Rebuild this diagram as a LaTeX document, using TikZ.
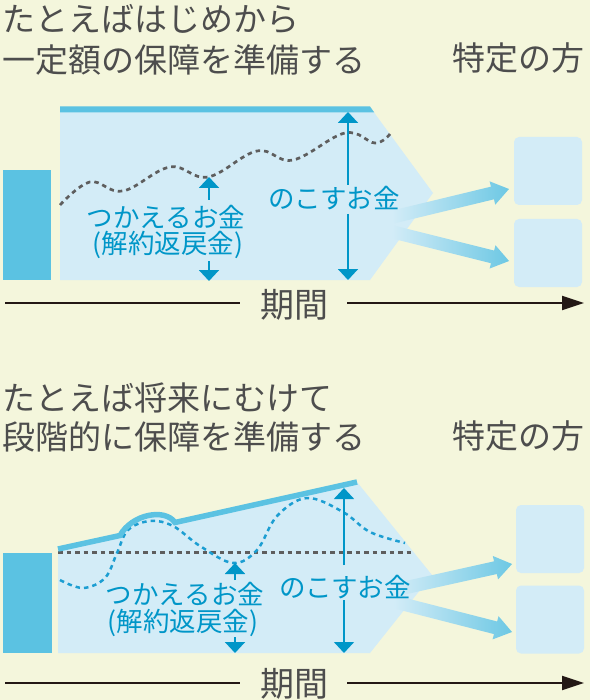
\documentclass[tikz,border=0pt]{standalone}
\usepackage{fontspec}
\newfontfamily\jp{Noto Sans CJK JP}
\usetikzlibrary{arrows.meta}
\definecolor{bg}{HTML}{F4F6DC}
\definecolor{light}{HTML}{D3ECF7}
\definecolor{barc}{HTML}{5BC2E2}
\definecolor{tblue}{HTML}{0096C8}
\definecolor{greytext}{HTML}{4D4D4D}
\definecolor{darkline}{HTML}{231815}
\definecolor{dgrey}{HTML}{5E5E5E}
\definecolor{dblue}{HTML}{1C9ED2}
\definecolor{garr}{HTML}{6DC8E4}
\newcommand\myGradArrow[3]{%
  \begin{scope}[shift={#1}, rotate=#2]
    \shade[left color=light, middle color=garr!50!bg, right color=garr]
      (0,-6.5) -- ({#3-17},-6.5) -- ({#3-17},-12) -- (#3,0) --
      ({#3-17},12) -- ({#3-17},6.5) -- (0,6.5) -- cycle;
  \end{scope}}
\begin{document}
\begin{tikzpicture}[x=1pt,y=-1pt,
  title/.style={font=\jp\fontsize{33}{36}\selectfont, text=greytext, inner sep=0pt},
  lbl/.style={font=\jp\fontsize{26.5}{30}\selectfont, text=tblue, inner sep=0pt},
  period/.style={font=\jp\fontsize{34}{36}\selectfont, text=greytext, inner sep=0pt},
  dest/.style={fill=light, rounded corners=5pt, minimum width=68pt, minimum height=68pt, inner sep=0pt},
  varr/.style={draw=tblue, line width=2pt, -{Triangle[width=20pt,length=11pt]}},
  tline/.style={draw=darkline, line width=2pt},
  gdash/.style={draw=dgrey, line width=2.7pt, dash pattern=on 4.5pt off 4pt},
  bdash/.style={draw=dblue, line width=2.5pt, dash pattern=on 4.5pt off 4pt},
  solidbar/.style={fill=barc}]
\useasboundingbox (0,0) rectangle (590,700);
\fill[bg] (0,0) rectangle (590,700);

% ================= TOP PANEL =================
\node[title, anchor=west] (t1a) at (2,19) {たとえばはじめから};
\node[title, anchor=west] (t1b) at (2,60) {一定額の保障を準備する};
\node[title] (t1c) at (518,58) {特定の方};

\fill[solidbar] (3,170) rectangle (51,280);
\fill[light] (60,107) -- (370,107) -- (433,193) -- (370,280) -- (60,280) -- cycle;
\fill[barc] (60,106.5) -- (370,106.5) -- (374.3,112.5) -- (60,112.5) -- cycle;

\draw[gdash] plot[smooth, tension=0.65] coordinates {(60,205) (90,182) (123,191) (170,167) (208,177) (257,151) (293,160) (345,133) (375,143) (390,134)};

\coordinate (tA1) at (393,217);
\coordinate (tA2) at (393,232);
\myGradArrow{(tA1)}{13.57}{119.3}
\myGradArrow{(tA2)}{-14.04}{119.6}

\node[dest] (d1) at (548,171) {};
\node[dest] (d2) at (548,253) {};

\node[lbl] (k1) at (166,217) {つかえるお金};
\node[lbl] (k1b) at (168,245) {(解約返戻金)};
\node[lbl] (n1) at (334,198) {のこすお金};

\coordinate (k1u) at (209,200); \coordinate (k1ut) at (209,177);
\coordinate (k1d) at (209,261); \coordinate (k1dt) at (209,281);
\draw[varr] (k1u) -- (k1ut);
\draw[varr] (k1d) -- (k1dt);
\coordinate (n1u) at (348,185); \coordinate (n1ut) at (348,112);
\coordinate (n1d) at (348,214); \coordinate (n1dt) at (348,280);
\draw[varr] (n1u) -- (n1ut);
\draw[varr] (n1d) -- (n1dt);

\node[period] (p1) at (294,305) {期間};
\coordinate (p1a) at (5,303); \coordinate (p1b) at (240,303);
\coordinate (p1c) at (347,303); \coordinate (p1d) at (584,303);
\draw[tline] (p1a) -- (p1b);
\draw[tline, -{Triangle[width=14pt,length=22pt]}] (p1c) -- (p1d);

% ================= BOTTOM PANEL =================
\node[title, anchor=west] (t2a) at (2,398) {たとえば将来にむけて};
\node[title, anchor=west] (t2b) at (2,437) {段階的に保障を準備する};
\node[title] (t2c) at (518,436) {特定の方};

\fill[solidbar] (3,553) rectangle (52,653);
\fill[light] (58,549) -- (120,535.5) .. controls (132,514) and (165,508) .. (175,522.5)
  -- (357,482) -- (432,575) -- (370,653) -- (58,653) -- cycle;

\draw[gdash] (58,552.5) -- (414,552.5);
\draw[bdash] plot[smooth, tension=0.6] coordinates {(60,580) (83,588) (105,578) (117,553) (128,530) (150,521) (173,526) (200,546) (233,563) (257,550) (277,516) (307,498) (343,512) (370,532) (405,543)};
\draw[barc, line width=5.5pt] (58,549) -- (120,535.5) .. controls (132,514) and (165,508) .. (175,522.5) -- (357,482);

\coordinate (tB1) at (395,590);
\coordinate (tB2) at (395,602);
\myGradArrow{(tB1)}{12.53}{119.9}
\myGradArrow{(tB2)}{-14.38}{120.8}

\node[dest] (d3) at (550,539) {};
\node[dest] (d4) at (550,619.5) {};

\node[lbl] (k2) at (185,594) {つかえるお金};
\node[lbl] (k2b) at (183,623) {(解約返戻金)};
\node[lbl] (n2) at (345,587) {のこすお金};

\coordinate (k2u) at (235,580); \coordinate (k2ut) at (235,563);
\coordinate (k2d) at (235,637); \coordinate (k2dt) at (235,653);
\draw[varr] (k2u) -- (k2ut);
\draw[varr] (k2d) -- (k2dt);
\coordinate (n2u) at (344,565); \coordinate (n2ut) at (344,488);
\coordinate (n2d) at (344,600); \coordinate (n2dt) at (344,653);
\draw[varr, line width=1.6pt] (n2u) -- (n2ut);
\draw[varr, line width=1.6pt] (n2d) -- (n2dt);

\node[period] (p2) at (294,684) {期間};
\coordinate (p2a) at (5,683); \coordinate (p2b) at (240,683);
\coordinate (p2c) at (347,683); \coordinate (p2d) at (584,683);
\draw[tline] (p2a) -- (p2b);
\draw[tline, -{Triangle[width=14pt,length=22pt]}] (p2c) -- (p2d);
\end{tikzpicture}
\end{document}
